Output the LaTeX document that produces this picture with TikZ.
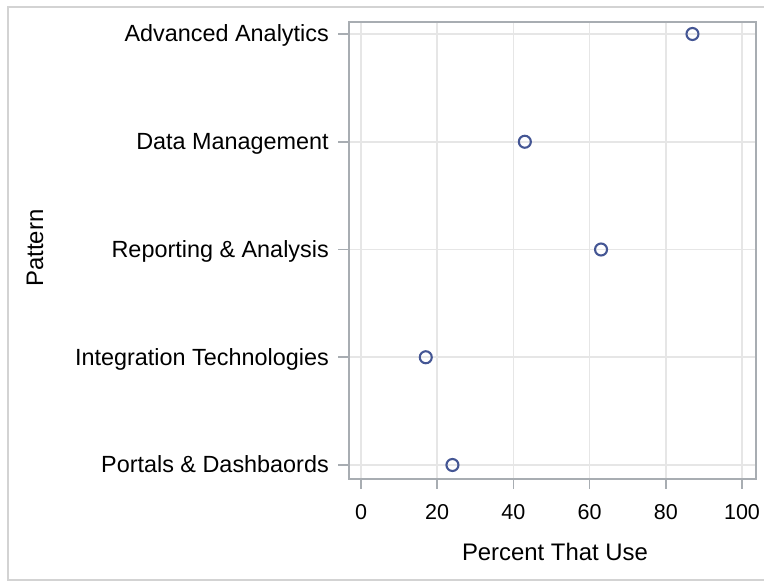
\documentclass[tikz,border=0pt]{standalone}
\usepackage{fontspec}
\setmainfont{Liberation Sans}
\definecolor{outerc}{HTML}{D3D3D3}
\definecolor{framec}{HTML}{A8ADB2}
\definecolor{gridc}{HTML}{E6E6E6}
\definecolor{markc}{HTML}{445694}
\begin{document}
\begin{tikzpicture}[x=1pt,y=-1pt,
  gridline/.style={draw=gridc,line width=1.6pt},
  framebox/.style={draw=framec,line width=2.2pt},
  tickline/.style={draw=framec,line width=1.6pt},
  catlabel/.style={anchor=base east,inner sep=0pt,font=\fontsize{23.4}{27}\selectfont},
  ticklabel/.style={anchor=center,inner sep=0pt,font=\fontsize{21.5}{25}\selectfont},
  axlabel/.style={inner sep=0pt,font=\fontsize{23.9}{28}\selectfont},
  datapt/.style={circle,draw=markc,line width=2.1pt,minimum size=12pt,inner sep=0pt}]
\useasboundingbox (0,0) rectangle (764,581);
% outer border
\draw[draw=outerc,line width=2pt] (770,7) -- (8,7) -- (8,580) -- (770,580);
% coordinates
\coordinate (fTL) at (349,22);
\coordinate (fBR) at (756,479);
% vertical grid lines and ticks
\foreach \v in {0,20,40,60,80,100}{
  \coordinate (gt\v) at ({361+3.81*\v},22);
  \coordinate (gb\v) at ({361+3.81*\v},479);
  \coordinate (tk\v) at ({361+3.81*\v},489);
  \draw[gridline] (gt\v) -- (gb\v);
  \draw[tickline] (gb\v) -- (tk\v);
  \node[ticklabel] (tl\v) at ({361+3.81*\v},512) {\v};
}
% categories
\foreach \i/\name/\val in {0/Advanced Analytics/87,1/Data Management/43,2/Reporting \& Analysis/63,3/Integration Technologies/17,4/Portals \& Dashbaords/24}{
  \coordinate (hl\i) at (349,{34+107.75*\i});
  \coordinate (hr\i) at (756,{34+107.75*\i});
  \coordinate (ht\i) at (338,{34+107.75*\i});
  \draw[gridline] (hl\i) -- (hr\i);
  \draw[tickline] (ht\i) -- (hl\i);
  \node[catlabel] (cl\i) at (329,{34+107.75*\i+7.8}) {\name};
  \node[datapt] (dp\i) at ({361+3.81*\val},{34+107.75*\i}) {};
}
% frame
\draw[framebox] (fTL) rectangle (fBR);
% axis labels
\node[axlabel,anchor=base] (xlab) at (555,560.5) {Percent That Use};
\node[axlabel,anchor=base,rotate=90] (ylab) at (43,248) {Pattern};
\end{tikzpicture}
\end{document}
